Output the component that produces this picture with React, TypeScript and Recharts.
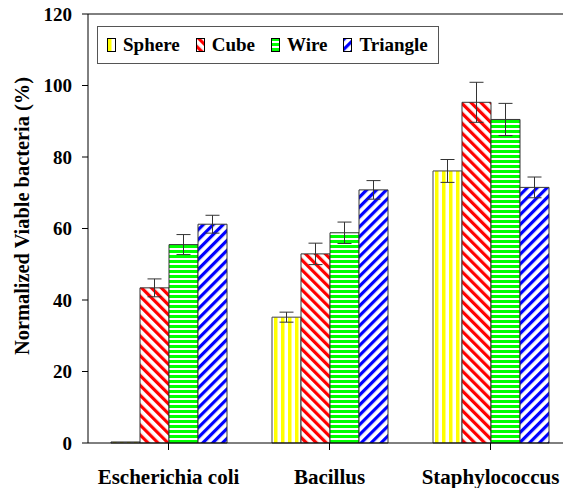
import React from 'react';
import { BarChart, Bar, XAxis, YAxis, ErrorBar, ReferenceLine } from 'recharts';

const categories = ['Escherichia coli', 'Bacillus', 'Staphylococcus'];
const sphere = [0.3, 35.2, 76.1];
const sphereErr = [0, 1.4, 3.2];
const cube = [43.4, 52.9, 95.3];
const cubeErr = [2.5, 3.0, 5.6];
const wire = [55.5, 58.8, 90.5];
const wireErr = [2.8, 3.0, 4.5];
const triangle = [61.2, 70.8, 71.5];
const triangleErr = [2.5, 2.6, 2.9];
const yTicks = [0, 20, 40, 60, 80, 100, 120];

const seriesNames = ['Sphere', 'Cube', 'Wire', 'Triangle'];
const patternIds = ['pSphere', 'pCube', 'pWire', 'pTriangle'];

const data = categories.map((name, i) => ({
  name,
  sphere: sphere[i],
  sphereErr: sphereErr[i],
  cube: cube[i],
  cubeErr: cubeErr[i],
  wire: wire[i],
  wireErr: wireErr[i],
  triangle: triangle[i],
  triangleErr: triangleErr[i],
}));

const FONT = '"Liberation Serif", "Times New Roman", serif';

// legend box sits inside the plot, top-left
const LegendBox = () => (
  <div
    style={{
      position: 'absolute',
      left: 97,
      top: 26,
      display: 'flex',
      alignItems: 'center',
      border: '1px solid #555',
      height: 38,
      width: 342,
      boxSizing: 'border-box',
      paddingLeft: 9,
      fontFamily: FONT,
      fontWeight: 'bold',
      fontSize: 19,
      background: '#fff',
    }}
  >
    {seriesNames.map((n, i) => (
      <div key={n} style={{ display: 'flex', alignItems: 'center', marginRight: i === 3 ? 0 : 16 }}>
        <svg width={10} height={14} style={{ marginRight: 6 }}>
          <rect x={0.5} y={0.5} width={8} height={13} fill={`url(#${patternIds[i]})`} stroke="#000" />
        </svg>
        <span>{n}</span>
      </div>
    ))}
  </div>
);

const YLabel = () => (
  <text
    x={22}
    y={216}
    transform="rotate(-90, 22, 216)"
    textAnchor="middle"
    dominantBaseline="central"
    style={{ fontFamily: FONT, fontWeight: 'bold', fontSize: 20.4, fill: '#000' }}
  >
    Normalized Viable bacteria (%)
  </text>
);

export default function App() {
  const yTickStyle = { fontFamily: FONT, fontWeight: 'bold', fontSize: 19, fill: '#000' };
  const xTickStyle = { fontFamily: FONT, fontWeight: 'bold', fontSize: 21, fill: '#000' };
  return (
    <div style={{ position: 'absolute', left: 0, top: 0, width: 563, height: 488, overflow: 'hidden', background: '#fff' }}>
      <BarChart
        width={575}
        height={488}
        data={data}
        margin={{ top: 14, right: 4, bottom: 0, left: 0 }}
        barSize={29}
        barGap={0}
      >
        <defs>
          <pattern id="pSphere" width={7} height={10} patternUnits="userSpaceOnUse">
            <rect width={7} height={10} fill="#fff" />
            <rect x={1} width={3.5} height={10} fill="#ffff00" />
          </pattern>
          <pattern id="pCube" width={7} height={7} patternUnits="userSpaceOnUse" patternTransform="rotate(-45)">
            <rect width={7} height={7} fill="#fff" />
            <rect width={3.2} height={7} fill="#ff0000" />
          </pattern>
          <pattern id="pWire" width={10} height={5} patternUnits="userSpaceOnUse">
            <rect width={10} height={5} fill="#fff" />
            <rect width={10} height={3} fill="#00ff00" />
          </pattern>
          <pattern id="pTriangle" width={7} height={7} patternUnits="userSpaceOnUse" patternTransform="rotate(45)">
            <rect width={7} height={7} fill="#fff" />
            <rect width={3.2} height={7} fill="#0000ff" />
          </pattern>
        </defs>
        <XAxis
          dataKey="name"
          height={45}
          interval={0}
          tickSize={7}
          tickMargin={19}
          tick={xTickStyle}
          stroke="#000"
          tickLine={{ stroke: '#000' }}
        />
        <YAxis
          width={88}
          domain={[0, 120]}
          ticks={yTicks}
          tickSize={6}
          tickMargin={10}
          tick={yTickStyle}
          stroke="#000"
          label={<YLabel />}
        />
        <ReferenceLine y={120} stroke="#000" />
        <Bar dataKey="sphere" name="Sphere" fill="url(#pSphere)" stroke="#444" isAnimationActive={false}>
          <ErrorBar dataKey="sphereErr" width={7} stroke="#333" strokeWidth={1} direction="y" />
        </Bar>
        <Bar dataKey="cube" name="Cube" fill="url(#pCube)" stroke="#333" isAnimationActive={false}>
          <ErrorBar dataKey="cubeErr" width={7} stroke="#333" strokeWidth={1} direction="y" />
        </Bar>
        <Bar dataKey="wire" name="Wire" fill="url(#pWire)" stroke="#333" isAnimationActive={false}>
          <ErrorBar dataKey="wireErr" width={7} stroke="#333" strokeWidth={1} direction="y" />
        </Bar>
        <Bar dataKey="triangle" name="Triangle" fill="url(#pTriangle)" stroke="#333" isAnimationActive={false}>
          <ErrorBar dataKey="triangleErr" width={7} stroke="#333" strokeWidth={1} direction="y" />
        </Bar>
      </BarChart>
      <LegendBox />
    </div>
  );
}
